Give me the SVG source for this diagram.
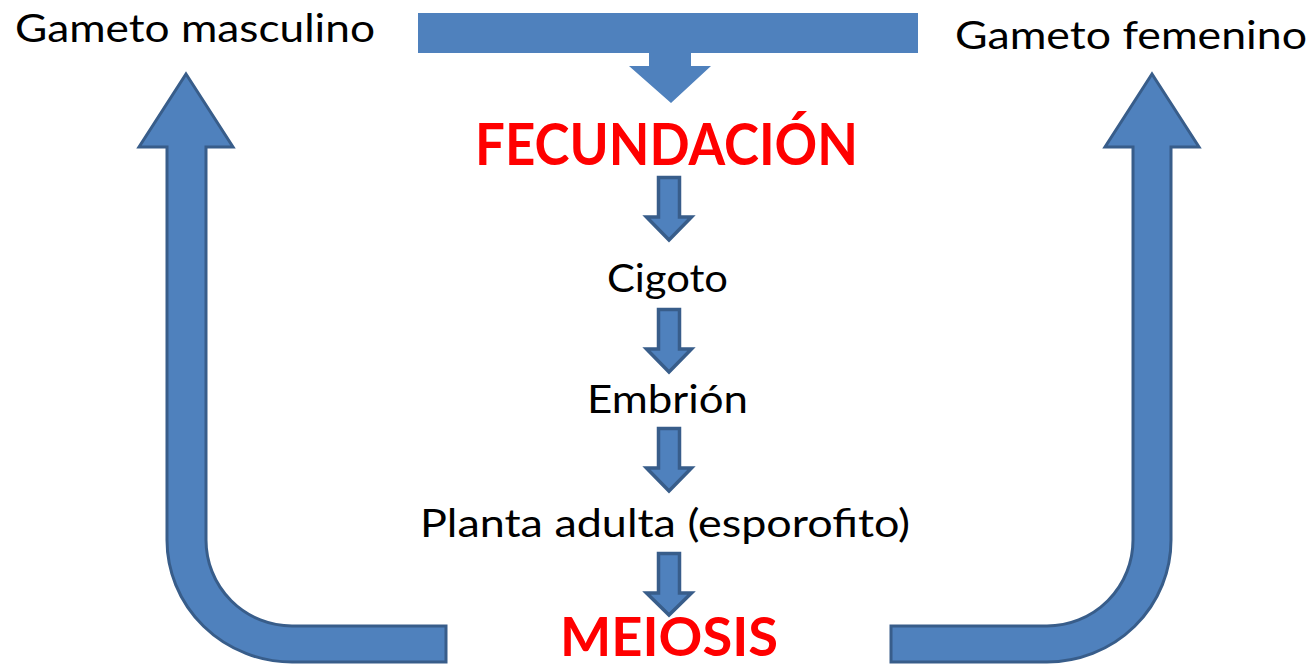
<svg xmlns="http://www.w3.org/2000/svg" width="1310" height="667" viewBox="0 0 1310 667">
  <style>
    .big { fill: #4F81BD; stroke: #385D8A; stroke-width: 3; stroke-linejoin: miter; }
    .small { fill: #4F81BD; stroke: #385D8A; stroke-width: 3.5; stroke-linejoin: miter; }
    .plain { fill: #4F81BD; stroke: none; }
    .lbl { font-family: Lato, "Open Sans", sans-serif; font-size: 38px; fill: #000000; }
    .key { font-family: Lato, "Open Sans", sans-serif; font-weight: bold; font-size: 57px; fill: #FF0000; }
    .key2 { font-family: Lato, "Open Sans", sans-serif; font-weight: bold; font-size: 53px; fill: #FF0000; }
  </style>
  <rect width="1310" height="667" fill="#ffffff"/>

  <g id="connectors">
    <path id="merge-arrow" class="plain" d="M418,13 L918,13 L918,53 L691,53 L691,66 L711,66 L671,103 L629,66 L649,66 L649,53 L418,53 Z"/>
    <path id="arrow-left" class="big" d="M186,74 L233,147 L206,147 L206,540 A86,86 0 0 0 292,626 L446,626 L446,662 L292,662 A125,122 0 0 1 167,540 L167,147 L139,147 Z"/>
    <path id="arrow-right" class="big" d="M1152,74 L1199,147 L1171,147 L1171,540 A124,122 0 0 1 1047,662 L891,662 L891,626 L1047,626 A86,86 0 0 0 1133,540 L1133,147 L1105,147 Z"/>
    <path id="arrow-1" class="small" d="M658.5,177.5 L679.5,177.5 L679.5,217 L691.5,217 L669,240 L646.5,217 L658.5,217 Z"/>
    <path id="arrow-2" class="small" d="M658.5,309.5 L679.5,309.5 L679.5,349 L691.5,349 L669,372 L646.5,349 L658.5,349 Z"/>
    <path id="arrow-3" class="small" d="M658.5,428.5 L679.5,428.5 L679.5,468 L691.5,468 L669,491 L646.5,468 L658.5,468 Z"/>
    <path id="arrow-4" class="small" d="M658.5,553.5 L679.5,553.5 L679.5,593 L691.5,593 L669,615 L646.5,593 L658.5,593 Z"/>
  </g>

  <g id="gameto-masculino">
    <text class="lbl" x="15" y="42" textLength="360" lengthAdjust="spacingAndGlyphs">Gameto masculino</text>
  </g>
  <g id="gameto-femenino">
    <text class="lbl" x="955" y="49" textLength="352" lengthAdjust="spacingAndGlyphs">Gameto femenino</text>
  </g>
  <g id="fecundacion">
    <text class="key" x="666.5" y="165" text-anchor="middle" textLength="383" lengthAdjust="spacingAndGlyphs">FECUNDACIÓN</text>
  </g>
  <g id="cigoto">
    <text class="lbl" x="667.5" y="292" text-anchor="middle" textLength="121" lengthAdjust="spacingAndGlyphs">Cigoto</text>
  </g>
  <g id="embrion">
    <text class="lbl" x="667.5" y="413" text-anchor="middle" textLength="161" lengthAdjust="spacingAndGlyphs">Embrión</text>
  </g>
  <g id="planta-adulta">
    <text class="lbl" x="665" y="537" text-anchor="middle" textLength="490" lengthAdjust="spacingAndGlyphs">Planta adulta (esporofito)</text>
  </g>
  <g id="meiosis">
    <text class="key2" x="669" y="656" text-anchor="middle" textLength="218" lengthAdjust="spacingAndGlyphs">MEIOSIS</text>
  </g>
</svg>
